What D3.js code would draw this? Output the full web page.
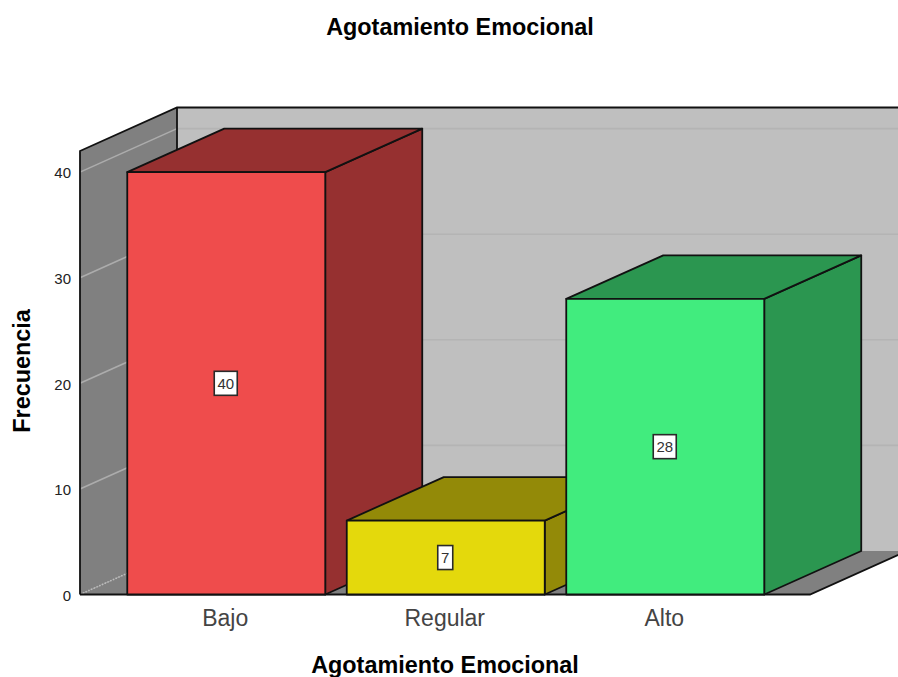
<!DOCTYPE html>
<html>
<head>
<meta charset="utf-8">
<script src="https://cdn.jsdelivr.net/npm/d3@7/dist/d3.min.js"></script>
<style>
html,body{margin:0;padding:0;background:#fff;}
svg{display:block;font-family:"Liberation Sans",Arial,sans-serif;}
</style>
</head>
<body>
<svg id="chart" width="898" height="677"></svg>
<script>
const categories = ["Bajo", "Regular", "Alto"];
const frequencies = [40, 7, 28];
const frontColors = ["#ef4c4c", "#e4d90c", "#41ec7e"];
const sideColors = ["#963030", "#938a08", "#2b9650"];
const yTicks = [0, 10, 20, 30, 40];
const titleText = "Agotamiento Emocional";
const xTitleText = "Agotamiento Emocional";
const yTitleText = "Frecuencia";

const svg = d3.select("#chart");
const stroke = "#111";
const depthX = 97, depthY = -43.5;

const x = d3.scaleBand().domain(categories).range([116.5, 775]).paddingInner(0.098).paddingOuter(0.049);
const y = d3.scaleLinear().domain([0, 42]).range([594.5, 151]);

const leftX = 80, rightX = 810;
const baseY = y(0), topY = y(42);
const poly = pts => pts.map(p => p.join(",")).join(" ");
const back = ([px, py]) => [px + depthX, py + depthY];

// Walls and floor of the box
const floorCorners = [[leftX, baseY], [rightX, baseY], back([rightX, baseY]), back([leftX, baseY])];
svg.append("polygon").attr("points", poly([back([leftX, topY]), [rightX + 200, topY + depthY], [rightX + 200, baseY + depthY], back([leftX, baseY])]))
  .attr("fill", "#bfbfbf");
svg.append("polygon").attr("points", poly(floorCorners)).attr("fill", "#808080");
svg.append("polygon").attr("points", poly([[leftX, topY], back([leftX, topY]), back([leftX, baseY]), [leftX, baseY]]))
  .attr("fill", "#808080");

// Gridlines run across the side wall and along the back wall
yTicks.forEach(t => {
  const p = [leftX, y(t)], q = back(p);
  const dashed = t === 0;
  svg.append("line").attr("x1", p[0]).attr("y1", p[1]).attr("x2", q[0]).attr("y2", q[1])
    .attr("stroke", dashed ? "#bcbcbc" : "#acacac").attr("stroke-width", 1.6)
    .attr("stroke-dasharray", dashed ? "1.5 1.5" : null);
  if (!dashed) {
    svg.append("line").attr("x1", q[0]).attr("y1", q[1]).attr("x2", 898).attr("y2", q[1])
      .attr("stroke", "#b4b4b4").attr("stroke-width", 1.6);
  }
});

// Box outline
svg.append("path").attr("fill", "none").attr("stroke", stroke).attr("stroke-width", 1.8)
  .attr("d", `M${leftX},${baseY} L${leftX},${topY} L${leftX + depthX},${topY + depthY} L898,${topY + depthY}
              M${leftX + depthX},${topY + depthY} L${leftX + depthX},${baseY + depthY}`);
svg.append("path").attr("fill", "none").attr("stroke", stroke).attr("stroke-width", 1.8)
  .attr("d", `M${leftX},${baseY} L${rightX},${baseY} L${rightX + depthX},${baseY + depthY}`);

// Bars, left to right so that nearer faces overlap properly
const bars = svg.append("g").selectAll("g").data(categories).join("g");
bars.each(function (c, i) {
  const g = d3.select(this);
  const x0 = x(c), x1 = x0 + x.bandwidth();
  const yv = y(frequencies[i]);
  const common = s => s.attr("stroke", stroke).attr("stroke-width", 1.8).attr("stroke-linejoin", "round");
  g.append("polygon").attr("points", poly([[x1, yv], back([x1, yv]), back([x1, baseY]), [x1, baseY]]))
    .attr("fill", sideColors[i]).call(common);
  g.append("polygon").attr("points", poly([[x0, yv], back([x0, yv]), back([x1, yv]), [x1, yv]]))
    .attr("fill", sideColors[i]).call(common);
  g.append("rect").attr("x", x0).attr("y", yv).attr("width", x.bandwidth()).attr("height", baseY - yv)
    .attr("fill", frontColors[i]).call(common);

  // Value tag in the centre of the front face
  const cx = x0 + x.bandwidth() / 2 - 0.5, cy = y(frequencies[i] / 2);
  const w = String(frequencies[i]).length > 1 ? 23 : 15;
  g.append("rect").attr("x", cx - w / 2).attr("y", cy - 12).attr("width", w).attr("height", 24)
    .attr("fill", "#fff").attr("stroke", "#2a2a2a").attr("stroke-width", 1.6);
  g.append("text").attr("x", cx).attr("y", cy + 5.5).attr("text-anchor", "middle")
    .attr("font-size", 15).attr("fill", "#333").text(frequencies[i]);
});

// Axes
const yAxis = svg.append("g").attr("transform", `translate(${leftX},1)`)
  .call(d3.axisLeft(y).tickValues(yTicks).tickSize(0).tickPadding(9));
yAxis.select(".domain").remove();
yAxis.selectAll("text").attr("font-size", 15).attr("font-family", "inherit").attr("fill", "#222");

const xAxis = svg.append("g").attr("transform", `translate(-1,${baseY})`)
  .call(d3.axisBottom(x).tickSize(0).tickPadding(15));
xAxis.select(".domain").remove();
xAxis.selectAll("text").attr("font-size", 23).attr("font-family", "inherit").attr("fill", "#444");

// Titles
svg.append("text").attr("x", 460).attr("y", 35).attr("text-anchor", "middle")
  .attr("font-size", 23.4).attr("font-weight", "bold").attr("fill", "#000").text(titleText);
svg.append("text").attr("x", 445).attr("y", 673).attr("text-anchor", "middle")
  .attr("font-size", 23.4).attr("font-weight", "bold").attr("fill", "#000").text(xTitleText);
svg.append("text").attr("transform", "translate(30,371) rotate(-90)").attr("text-anchor", "middle")
  .attr("font-size", 23.4).attr("font-weight", "bold").attr("fill", "#000").text(yTitleText);
</script>
</body>
</html>
